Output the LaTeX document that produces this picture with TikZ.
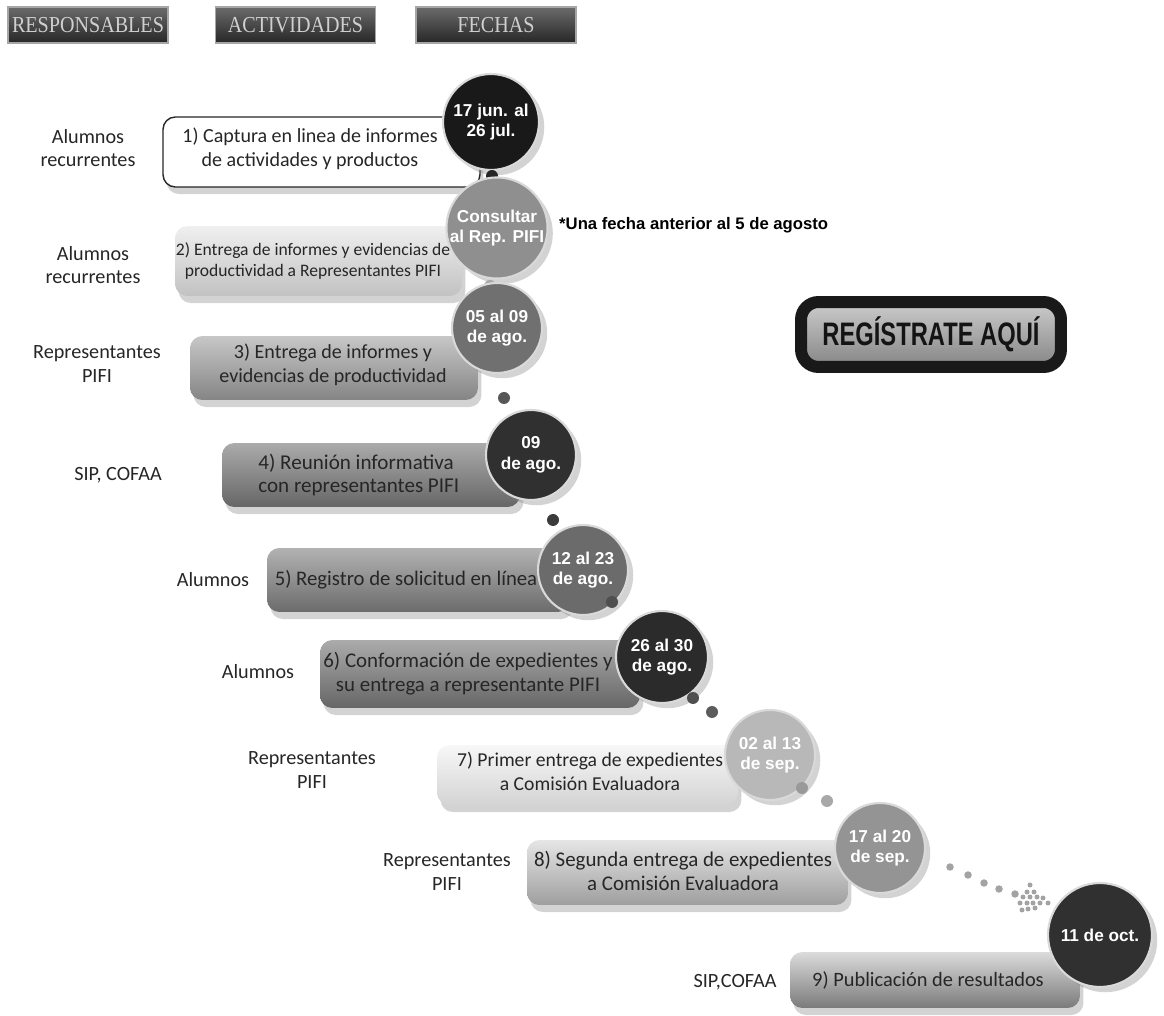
\documentclass[tikz,border=0pt]{standalone}
\usepackage{fontspec}
\setmainfont{Carlito}
\newfontfamily\datefont{Liberation Sans}
\newfontfamily\hdrfont[FakeStretch=0.88]{Liberation Serif}
\newfontfamily\regfont[FakeStretch=0.73]{Liberation Sans}
\usepackage{tikz}
\usetikzlibrary{shadows, positioning}

\definecolor{txtgray}{HTML}{262626}
\definecolor{hdrtext}{HTML}{CFCFCF}

\begin{document}
\begin{tikzpicture}[x=0.02cm, y=-0.02cm,
  hdr/.style={draw=gray!70, line width=0.6pt, top color=black!58, bottom color=black!85, minimum width=3.2cm, minimum height=0.72cm, inner sep=0pt, text=hdrtext, font=\hdrfont\fontsize{13}{14}\selectfont},
  actbox/.style={rounded corners=7pt, drop shadow={shadow xshift=2pt, shadow yshift=-4pt, opacity=0.35}},
  acttext/.style={align=center, inner sep=0pt, text=txtgray, font=\fontsize{#1}{13.6}\selectfont},
  acttext/.default=11.5,
  fecha/.style={circle, draw=white!85!black, line width=1.2pt, inner sep=0pt, align=center, text=white, font=\datefont\bfseries\fontsize{9.8}{11.8}\selectfont, drop shadow={shadow xshift=3pt, shadow yshift=-3pt, opacity=0.35}},
  resp/.style={align=center, text=txtgray, font=\fontsize{11.5}{13.4}\selectfont},
  dot/.style={circle, inner sep=0pt, minimum size=0.24cm}]
\useasboundingbox (0,0) rectangle (1164,1016);

% encabezados
\node[hdr] (h1) at (88,25) {RESPONSABLES};
\node[hdr] (h2) at (295.5,25) {ACTIVIDADES};
\node[hdr] (h3) at (496,25) {FECHAS};

% 1
\node[resp] (r1) at (88,148) {Alumnos\\recurrentes};
\node[actbox, fill=white, draw=black!85, line width=0.8pt, minimum width=6.34cm, minimum height=1.4cm] (a1) at (321.5,152) {};
\node[acttext=11.4] (t1) at (310,149) {1) Captura en linea de informes\\de actividades y productos};
\node[fecha, fill=black!90, minimum size=1.92cm] (f1) at (491,122) {17 jun. al\\26 jul.};
\node[dot, fill=black!85] (p1) at (492,176) {};

% 2
\node[resp] (r2) at (93,265) {Alumnos\\recurrentes};
\node[actbox, top color=black!6, bottom color=black!24, minimum width=5.74cm, minimum height=1.4cm] (a2) at (318.5,261) {};
\node[acttext=10, font=\fontsize{10}{12.4}\selectfont] (t2) at (313,261) {2) Entrega de informes y evidencias de\\productividad a Representantes PIFI};
\node[fecha, fill=black!44, minimum size=1.8cm] (f2) at (497,228) {Consultar\\al Rep. PIFI};
\node[anchor=west, font=\datefont\bfseries\fontsize{9.5}{11}\selectfont] (nota) at (553,225) {*Una fecha anterior al 5 de agosto};
\node[dot, fill=black!34] (p2) at (490,286) {};

% 3
\node[resp] (r3) at (97,364) {Representantes\\PIFI};
\node[actbox, top color=black!22, bottom color=black!48, minimum width=5.76cm, minimum height=1.28cm] (a3) at (334,368) {};
\node[acttext=11.4] (t3) at (333,365) {3) Entrega de informes y\\evidencias de productividad};
\node[fecha, fill=black!56, minimum size=1.8cm] (f3) at (497,328) {05 al 09\\de ago.};
\node[dot, fill=black!66] (p3) at (504,398) {};

% 4
\node[resp] (r4) at (118,475) {SIP, COFAA};
\node[actbox, top color=black!33, bottom color=black!60, minimum width=5.96cm, minimum height=1.28cm] (a4) at (371,475) {};
\node[acttext=12, align=flush left, anchor=west] (t4) at (258,475) {4) Reunión informativa\\con representantes PIFI};
\node[fecha, fill=black!81, minimum size=1.8cm] (f4) at (531,455) {09\\de ago.};
\node[dot, fill=black!77] (p4) at (553,520) {};

% 5
\node[resp] (r5) at (213,580) {Alumnos};
\node[actbox, top color=black!30, bottom color=black!58, minimum width=6.06cm, minimum height=1.28cm] (a5) at (418.5,580) {};
\node[acttext=11.8] (t5) at (406,580) {5) Registro de solicitud en línea};
\node[fecha, fill=black!58, minimum size=1.8cm] (f5) at (583,570) {12 al 23\\de ago.};
\node[dot, fill=black!69] (p5) at (612,602) {};

% 6
\node[resp] (r6) at (258,672) {Alumnos};
\node[actbox, top color=black!33, bottom color=black!60, minimum width=6.4cm, minimum height=1.36cm] (a6) at (480,674) {};
\node[acttext=11.9] (t6) at (468,674) {6) Conformación de expedientes y\\su entrega a representante PIFI};
\node[fecha, fill=black!83, minimum size=1.84cm] (f6) at (662,657) {26 al 30\\de ago.};
\node[dot, fill=black!69] (p6a) at (693,698) {};
\node[dot, fill=black!64] (p6b) at (712,712) {};

% 7
\node[resp] (r7) at (312,770) {Representantes\\PIFI};
\node[actbox, top color=black!3, bottom color=black!17, minimum width=6.02cm, minimum height=1.2cm] (a7) at (587.5,775) {};
\node[acttext=11.2] (t7) at (590,771) {7) Primer entrega de expedientes\\a Comisión Evaluadora};
\node[fecha, fill=black!28, minimum size=1.8cm] (f7) at (770,755) {02 al 13\\de sep.};
\node[dot, fill=black!40] (p7a) at (802,788) {};
\node[dot, fill=black!34] (p7b) at (827,801) {};

% 8
\node[resp] (r8) at (447,872) {Representantes\\PIFI};
\node[actbox, top color=black!10, bottom color=black!38, minimum width=6.42cm, minimum height=1.3cm] (a8) at (687.5,872.5) {};
\node[acttext=11.9] (t8) at (683,871) {8) Segunda entrega de expedientes\\a Comisión Evaluadora};
\node[fecha, fill=black!42, minimum size=1.8cm] (f8) at (880,848) {17 al 20\\de sep.};
\foreach \x/\y [count=\i] in {950/867, 968/875, 984/883, 999/889, 1015/894}
  \node[dot, fill=black!36, minimum size=0.15cm] (p8\i) at (\x,\y) {};
\foreach \x/\y [count=\i] in {1030/885, 1027/892, 1034/892, 1023/897, 1030/897, 1037/897, 1043/898, 1020/903, 1027/903, 1033/903, 1040/903, 1048/903, 1022/910, 1028/909, 1035/908}
  \node[dot, fill=black!36, minimum size=0.1cm] (q\i) at (\x,\y) {};

% 9
\node[resp] (r9) at (735,982) {SIP,COFAA};
\node[actbox, top color=black!14, bottom color=black!52, minimum width=5.8cm, minimum height=1.12cm] (a9) at (935,980) {};
\node[acttext=11.6] (t9) at (928,980) {9) Publicación de resultados};
\node[fecha, fill=black!81, minimum size=2.08cm] (f9) at (1100,935) {11 de oct.};

% boton
\node[rounded corners=10pt, draw=black!90, line width=0.24cm, top color=black!20, bottom color=black!48, minimum width=5.2cm, minimum height=1.3cm, text=black!92, font=\regfont\bfseries\fontsize{18.5}{20}\selectfont, drop shadow={shadow xshift=2pt, shadow yshift=-3pt, opacity=0.25}] (reg) at (931,334.5) {REGÍSTRATE AQUÍ};
\end{tikzpicture}
\end{document}
